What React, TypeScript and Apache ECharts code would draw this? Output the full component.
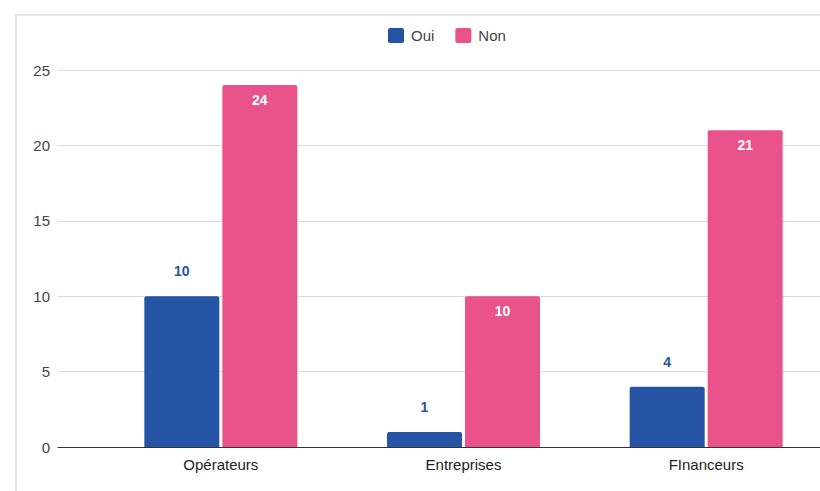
import React, { useEffect, useRef } from "react";
import * as echarts from "echarts";

const categories = ["Opérateurs", "Entreprises", "FInanceurs"];
const ouiValues = [10, 1, 4];
const nonValues = [24, 10, 21];
const seriesNames = ["Oui", "Non"];
const yMin = 0;
const yMax = 25;
const yInterval = 5;

const BLUE = "#2654a5";
const PINK = "#e9528a";
const FONT = "'Liberation Sans', Arial, sans-serif";

export default function App() {
  const ref = useRef<HTMLDivElement>(null);
  useEffect(() => {
    if (!ref.current) return;
    const chart = echarts.init(ref.current, undefined, { renderer: "svg" });
    chart.setOption({
      animation: false,
      backgroundColor: "#ffffff",
      textStyle: { fontFamily: FONT },
      graphic: [
        {
          type: "rect",
          shape: { x: 16, y: 15, width: 840, height: 520 },
          style: { fill: "none", stroke: "#e6e6e6", lineWidth: 2 },
          silent: true,
          z: -10,
        },
      ],
      legend: {
        data: seriesNames,
        left: 383,
        top: 23,
        itemWidth: 16,
        itemHeight: 15,
        itemGap: 21,
        icon: "path://M2,0 L14,0 Q16,0 16,2 L16,13 Q16,15 14,15 L2,15 Q0,15 0,13 L0,2 Q0,0 2,0 Z",
        textStyle: {
          fontSize: 15,
          color: "#444",
          fontFamily: FONT,
          padding: [0, 0, 0, 2],
        },
      },
      grid: [
        { left: 58, width: 775, top: 70, bottom: 44 },
        { left: 99.5, width: 728, top: 70, bottom: 44 },
      ],
      xAxis: [
        {
          gridIndex: 0,
          type: "category",
          data: [""],
          axisLine: { show: true, lineStyle: { color: "#333", width: 1 } },
          axisTick: { show: false },
          axisLabel: { show: false },
          splitLine: { show: false },
        },
        {
          gridIndex: 1,
          type: "category",
          data: categories,
          axisLine: { show: false },
          axisTick: { show: false },
          axisLabel: { fontSize: 15, color: "#222", margin: 10, fontFamily: FONT },
        },
      ],
      yAxis: [
        {
          gridIndex: 0,
          type: "value",
          min: yMin,
          max: yMax,
          interval: yInterval,
          axisLine: { show: false },
          axisTick: { show: false },
          axisLabel: { fontSize: 15, color: "#444", margin: 8, fontFamily: FONT },
          splitLine: { lineStyle: { color: "#dadada", width: 1 } },
        },
        {
          gridIndex: 1,
          type: "value",
          min: yMin,
          max: yMax,
          interval: yInterval,
          show: false,
          splitLine: { show: false },
        },
      ],
      series: [
        {
          name: seriesNames[0],
          type: "bar",
          xAxisIndex: 1,
          yAxisIndex: 1,
          data: ouiValues,
          barWidth: 75,
          barGap: "4%",
          itemStyle: { color: BLUE, borderRadius: [2, 2, 0, 0] },
          label: {
            show: true,
            position: "top",
            distance: 18,
            color: BLUE,
            fontSize: 14,
            fontWeight: "bold",
            fontFamily: FONT,
          },
        },
        {
          name: seriesNames[1],
          type: "bar",
          xAxisIndex: 1,
          yAxisIndex: 1,
          data: nonValues,
          barWidth: 75,
          barGap: "4%",
          itemStyle: { color: PINK, borderRadius: [2, 2, 0, 0] },
          label: {
            show: true,
            position: "insideTop",
            distance: 8,
            color: "#ffffff",
            fontSize: 14,
            fontWeight: "bold",
            fontFamily: FONT,
          },
        },
      ],
    });
    return () => chart.dispose();
  }, []);
  return (
    <div
      ref={ref}
      style={{ position: "fixed", left: 0, top: 0, width: 840, height: 491 }}
    />
  );
}
